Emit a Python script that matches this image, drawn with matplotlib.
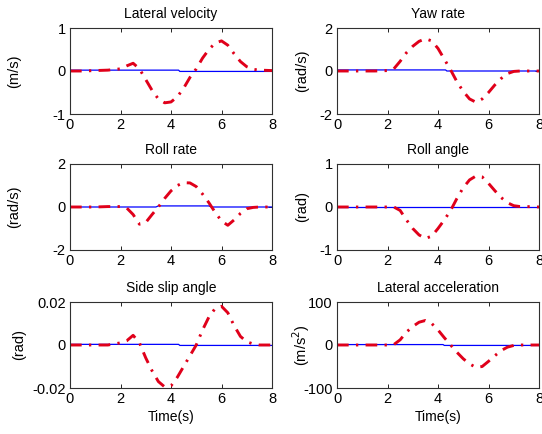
import matplotlib
matplotlib.use("Agg")
import matplotlib.pyplot as plt
import numpy as np

plt.rcParams['font.family'] = ['Liberation Sans', 'DejaVu Sans']

t = [0, 0.5, 1, 1.5, 2, 2.25, 2.5, 2.75, 3, 3.25, 3.5, 3.75, 4, 4.25, 4.5,
     4.75, 5, 5.25, 5.5, 5.75, 6, 6.25, 6.5, 6.75, 7, 7.25, 7.5, 8]

lat_vel = [0, 0, 0.01, 0.02, 0.05, 0.12, 0.18, 0.05, -0.2, -0.45, -0.65, -0.74,
           -0.72, -0.6, -0.4, -0.15, 0.05, 0.3, 0.5, 0.65, 0.7, 0.6, 0.4, 0.22,
           0.1, 0.04, 0.02, 0.01]
yaw_rate = [0, 0, 0, 0, 0.02, 0.1, 0.45, 0.85, 1.15, 1.38, 1.5, 1.4, 1.05, 0.55,
            0.05, -0.5, -0.95, -1.3, -1.45, -1.3, -1.0, -0.65, -0.35, -0.12,
            -0.02, 0, 0, 0]
roll_rate = [0, 0, 0, 0.02, 0.02, -0.05, -0.35, -0.8, -0.72, -0.35, 0.0, 0.4,
             0.75, 1.0, 1.13, 1.12, 0.95, 0.6, 0.2, -0.25, -0.65, -0.85, -0.6,
             -0.3, -0.08, -0.02, 0, 0]
roll_angle = [0, 0, 0, 0, 0, 0, -0.08, -0.3, -0.5, -0.65, -0.73, -0.68, -0.5,
              -0.3, -0.08, 0.2, 0.45, 0.63, 0.72, 0.7, 0.55, 0.38, 0.22, 0.1,
              0.03, 0.01, 0.01, 0]
side_slip = [0, 0, 0, 0, 0.001, 0.002, 0.0045, 0.001, -0.006, -0.012, -0.017,
             -0.0195, -0.019, -0.015, -0.01, -0.005, 0, 0.007, 0.013, 0.017,
             0.018, 0.015, 0.009, 0.004, 0.0015, 0.0005, 0, 0]
lat_acc = [0, 0, 0, 0, 0, 1, 12, 30, 43, 53, 57, 50, 35, 17, 0, -17, -32, -44,
           -52, -50, -38, -25, -13, -5, -1, 0, 0, 0]

t_lin = [0, 4.3, 4.35, 8]
lin_lat_vel = [0.02, 0.02, -0.01, -0.01]
lin_yaw = [0.05, 0.05, 0.0, 0.0]
t_lin_roll = [0, 3.4, 3.5, 5.5, 5.6, 8]
lin_roll_rate = [0.0, 0.0, 0.05, 0.05, 0.0, 0.0]
t_lin_flat = [0, 8]
lin_roll_angle = [0.0, 0.0]
lin_side_slip = [0.0003, 0.0003, -0.0002, -0.0002]
t_lin_acc = [0, 4.2, 4.25, 8]
lin_lat_acc = [1, 1, -1, -1]

titles = ["Lateral velocity", "Yaw rate", "Roll rate", "Roll angle",
          "Side slip angle", "Lateral acceleration"]
ylabels = ["(m/s)", "(rad/s)", "(rad/s)", "(rad)", "(rad)", "(m/s$^2$)"]
yticks = [[-1, 0, 1], [-2, 0, 2], [-2, 0, 2], [-1, 0, 1],
          [-0.02, 0, 0.02], [-100, 0, 100]]
yticklabels = [["-1", "0", "1"], ["-2", "0", "2"], ["-2", "0", "2"],
               ["-1", "0", "1"], ["-0.02", "0", "0.02"], ["-100", "0", "100"]]
xticks = [0, 2, 4, 6, 8]

reds = [lat_vel, yaw_rate, roll_rate, roll_angle, side_slip, lat_acc]
blues = [(t_lin, lin_lat_vel), (t_lin, lin_yaw), (t_lin_roll, lin_roll_rate),
         (t_lin_flat, lin_roll_angle), (t_lin, lin_side_slip),
         (t_lin_acc, lin_lat_acc)]

W, H = 542, 434
fig = plt.figure(figsize=(W / 100, H / 100), dpi=100)
lefts = [70, 337]
tops = [28, 164, 302]
aw, ah = 202, 86
label_x = [-0.24, -0.14, -0.24, -0.14, -0.215, -0.125]

for i in range(6):
    r, c = divmod(i, 2)
    ax = fig.add_axes([lefts[c] / W, 1 - (tops[r] + ah) / H, aw / W, ah / H])
    bt, bv = blues[i]
    ax.plot(bt, bv, color='#0000ff', lw=0.9)
    ax.plot(t, reds[i], color='#e0001a', lw=2.1, linestyle=(0, (4, 2.5, 0.8, 2.5)))
    ax.set_xlim(0, 8)
    ax.set_ylim(yticks[i][0], yticks[i][-1])
    ax.set_xticks(xticks)
    ax.set_xticklabels([str(v) for v in xticks])
    ax.set_yticks(yticks[i])
    ax.set_yticklabels(yticklabels[i])
    ax.tick_params(direction='in', top=True, right=True, labelsize=10.5,
                   length=3, width=0.6, pad=3)
    for s in ax.spines.values():
        s.set_linewidth(0.8)
        s.set_color('#303030')
    ax.set_title(titles[i], fontsize=10, pad=7)
    ax.set_ylabel(ylabels[i], fontsize=10.5)
    ax.yaxis.set_label_coords(label_x[i], 0.5)
    if r == 2:
        ax.set_xlabel("Time(s)", fontsize=10, labelpad=3)

fig.savefig("out.png", dpi=100)
